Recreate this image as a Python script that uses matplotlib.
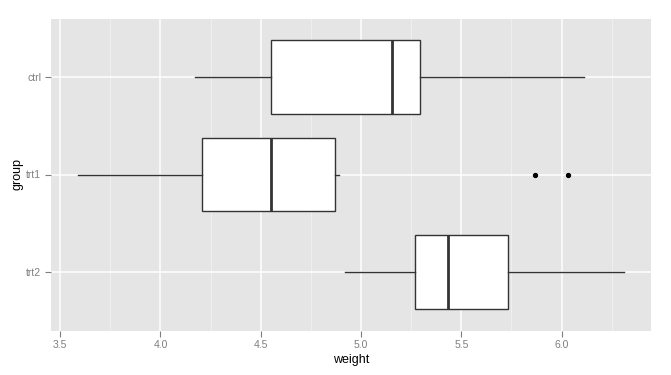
import numpy as np
import matplotlib
matplotlib.use("Agg")
import matplotlib.pyplot as plt
from matplotlib.ticker import MultipleLocator, FormatStrFormatter

plt.rcParams['font.family'] = ['Liberation Sans', 'DejaVu Sans']

# PlantGrowth summary
groups = ["ctrl", "trt1", "trt2"]
whislo = [4.17, 3.59, 4.92]
q1 = [4.55, 4.2075, 5.2675]
med = [5.155, 4.55, 5.435]
q3 = [5.2925, 4.87, 5.735]
whishi = [6.11, 4.89, 6.31]
outliers = [[], [5.87, 6.03], []]

stats = []
for i, g in enumerate(groups):
    stats.append(dict(label=g, whislo=whislo[i], q1=q1[i], med=med[i],
                      q3=q3[i], whishi=whishi[i], fliers=outliers[i]))

fig = plt.figure(figsize=(6.71, 3.75), dpi=100)
ax = fig.add_axes([51/671, 44.5/375, 600/671, 312/375])
ax.set_facecolor("#E5E5E5")

pos = [3, 2, 1]
line_c = "#333333"
ax.bxp(stats, positions=pos, orientation='horizontal', widths=0.75,
       showcaps=False, patch_artist=True,
       boxprops=dict(facecolor="white", edgecolor=line_c, linewidth=1.0),
       whiskerprops=dict(color=line_c, linewidth=1.0),
       medianprops=dict(color=line_c, linewidth=2.0),
       flierprops=dict(marker='o', markerfacecolor='black', markeredgecolor='black',
                       markersize=2.8, linestyle='none'),
       zorder=3)

ax.set_xlim(3.454, 6.446)
ax.set_ylim(0.4, 3.6)
ax.xaxis.set_major_locator(MultipleLocator(0.5))
ax.xaxis.set_minor_locator(MultipleLocator(0.25))
ax.xaxis.set_major_formatter(FormatStrFormatter('%.1f'))
ax.set_yticks(pos)
ax.set_yticklabels(groups)

ax.grid(which='major', color='white', linewidth=1.1, zorder=0)
ax.grid(which='minor', axis='x', color='#F2F2F2', linewidth=0.6, zorder=0)
ax.set_axisbelow(True)

for s in ax.spines.values():
    s.set_visible(False)
ax.tick_params(which='major', length=4, width=0.8, color='#7F7F7F',
               labelcolor='#7F7F7F', labelsize=7.5, pad=3)
ax.tick_params(which='minor', length=0)

ax.set_xlabel("weight", fontsize=9, labelpad=3)
ax.set_ylabel("group", fontsize=9, labelpad=2)

fig.savefig("out.png", dpi=100)
